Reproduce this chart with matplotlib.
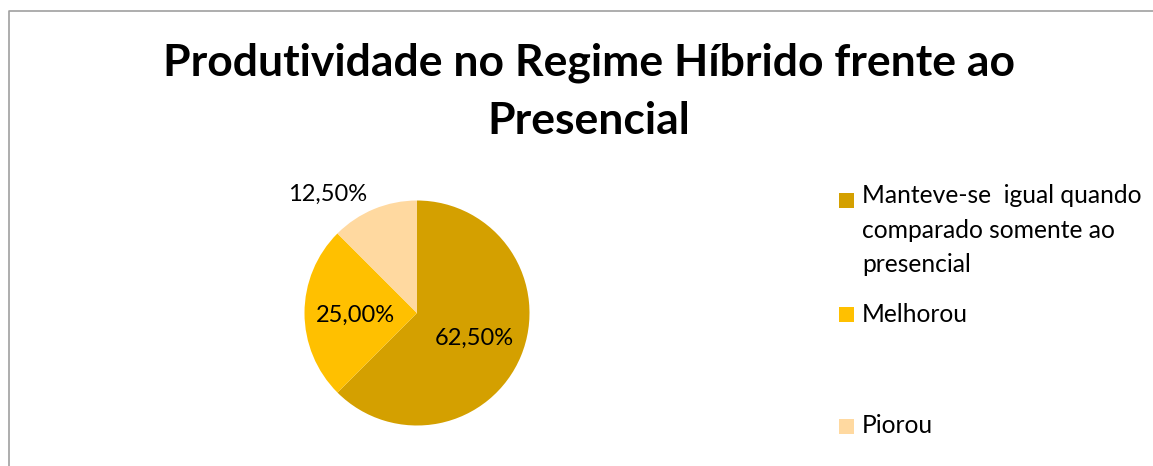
import matplotlib
matplotlib.use('Agg')
import matplotlib.pyplot as plt
from matplotlib.patches import Rectangle
import numpy as np

plt.rcParams['font.family'] = ['Lato', 'DejaVu Sans']

# respostas (%)
categorias = ['Manteve-se  igual quando\ncomparado somente ao\npresencial',
              'Melhorou',
              'Piorou']
percentuais = [62.5, 25.0, 12.5]
cores = ['#D4A000', '#FFC000', '#FFD9A0']
titulo = 'Produtividade no Regime Híbrido frente ao\nPresencial'

W, H = 1153, 466
fig = plt.figure(figsize=(W / 100, H / 100), dpi=100)
ax = fig.add_axes([0, 0, 1, 1])

centro = (417, H - 313)
raio = 112.5
wedges, textos, autotextos = ax.pie(
    percentuais, colors=cores, startangle=90, counterclock=False,
    center=centro, radius=raio,
    autopct=lambda p: f'{p:.2f}%'.replace('.', ','),
    pctdistance=0.55, textprops={'fontsize': 17, 'color': 'black'},
    wedgeprops={'linewidth': 0})
for t in textos:
    t.set_visible(False)
for t in autotextos:
    t.set_va('center_baseline')

# a fatia pequena leva o rotulo para fora
w = wedges[2]
ang = np.deg2rad((w.theta1 + w.theta2) / 2 + 14)
autotextos[2].set_position((centro[0] + 1.33 * raio * np.cos(ang),
                            centro[1] + 1.33 * raio * np.sin(ang)))

ax.set_xlim(0, W)
ax.set_ylim(0, H)
ax.set_aspect('equal')
ax.axis('off')

# va='baseline' alinha pela ultima linha
ax.text(589, H - 134, titulo, ha='center', va='baseline', fontsize=32,
        fontweight='bold', linespacing=1.55)

# legenda: centro do quadrado e linha de base do ultimo texto
leg_y = [H - 200.5, H - 314, H - 426.5]
leg_base = [H - 272, H - 322, H - 433]
for cor, nome, y, yb in zip(cores, categorias, leg_y, leg_base):
    ax.add_patch(Rectangle((839, y - 7.5), 15, 15, facecolor=cor, edgecolor='none'))
    ax.text(862, yb, nome, ha='left', va='baseline', fontsize=17.7,
            linespacing=1.6)

# moldura
ax.plot([8.5, 8.5, W + 5], [0, H - 10.5, H - 10.5], color='#A0A0A0',
        linewidth=1.2, clip_on=False)

fig.savefig('out.png', dpi=100)
